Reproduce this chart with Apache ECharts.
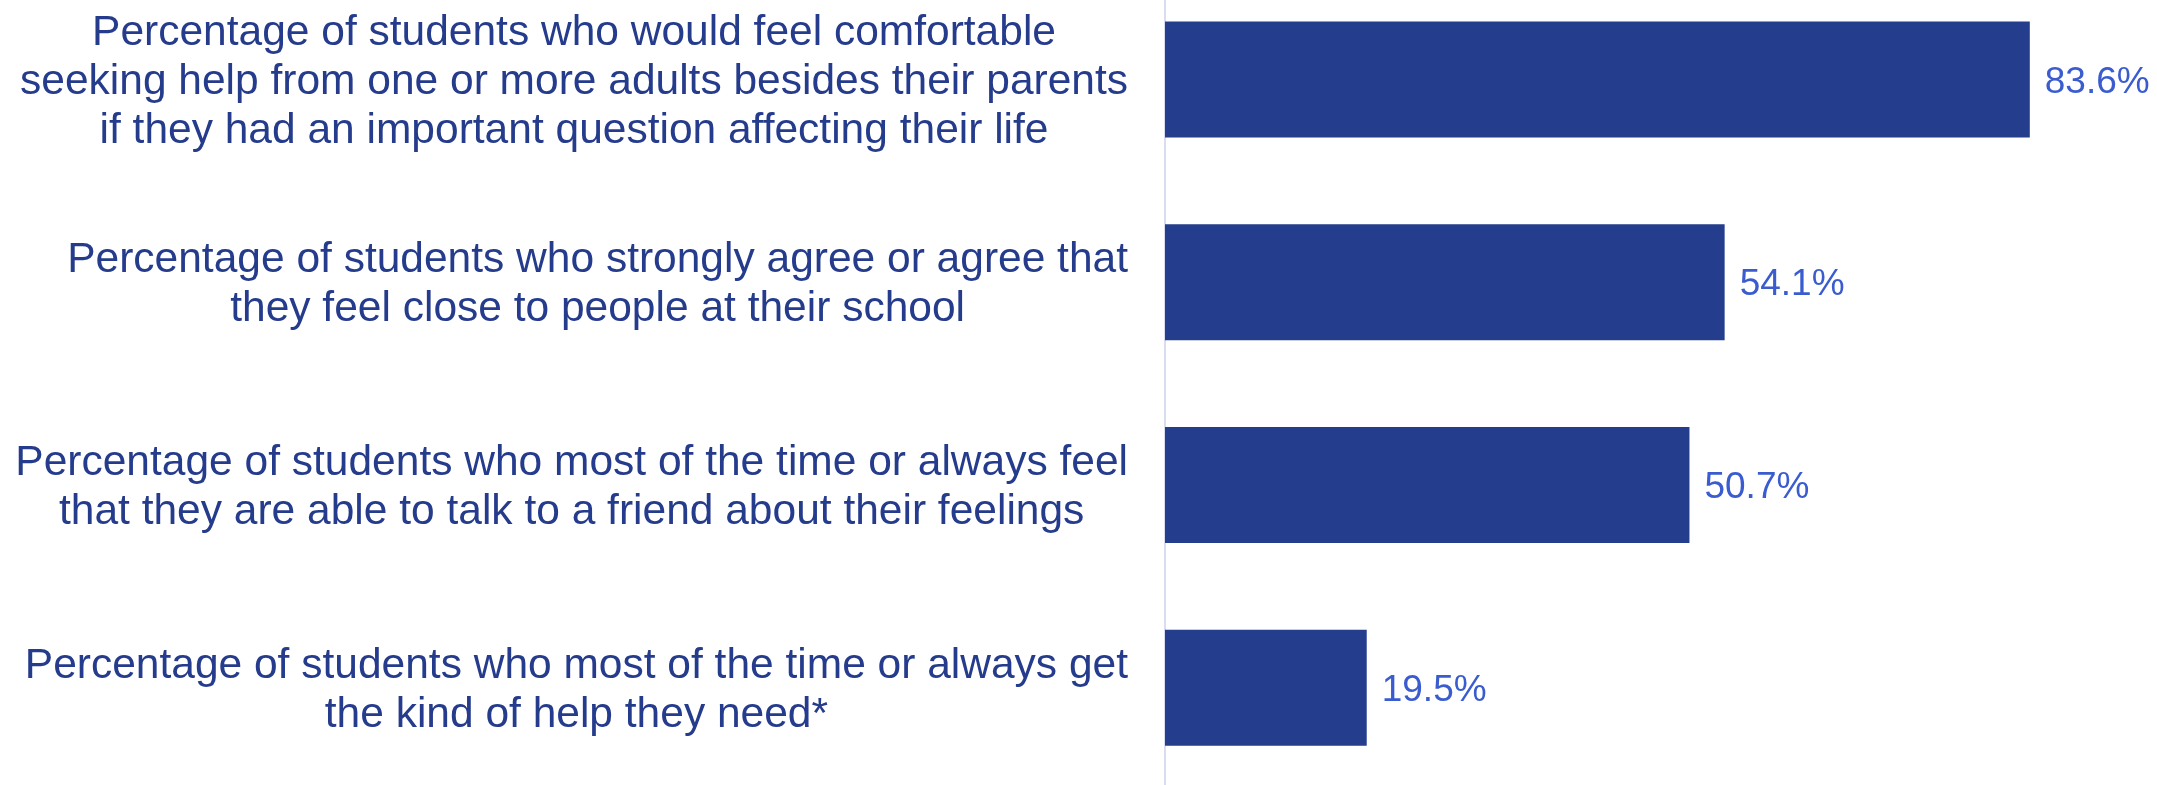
<!DOCTYPE html>
<html>
<head>
<meta charset="utf-8">
<script src="https://cdn.jsdelivr.net/npm/echarts@6/dist/echarts.min.js"></script>
<style>
  html, body { margin: 0; padding: 0; background: #ffffff; overflow: hidden; }
  /* plot area runs a little past the top and bottom edges of the page */
  #chart { width: 2157px; height: 811px; margin-top: -22px; }
</style>
</head>
<body>
<div id="chart"></div>
<script>
// Survey indicators, listed top to bottom
const categories = [
  "Percentage of students who would feel comfortable\nseeking help from one or more adults besides their parents\nif they had an important question affecting their life",
  "Percentage of students who strongly agree or agree that\nthey feel close to people at their school",
  "Percentage of students who most of the time or always feel\nthat they are able to talk to a friend about their feelings",
  "Percentage of students who most of the time or always get\nthe kind of help they need*"
];
const values = [83.6, 54.1, 50.7, 19.5];

const FONT = "'Liberation Sans', Arial, sans-serif";
const chart = echarts.init(document.getElementById('chart'));

chart.setOption({
  animation: false,
  backgroundColor: '#ffffff',
  grid: { left: 1165, right: 61, top: 0, bottom: 0, containLabel: false },
  xAxis: {
    type: 'value',
    min: 0,
    max: 90,
    show: false
  },
  yAxis: {
    type: 'category',
    inverse: true,
    data: categories,
    axisLine: { show: true, lineStyle: { color: '#d9ddf2', width: 2 } },
    axisTick: { show: false },
    splitLine: { show: false },
    axisLabel: {
      margin: 37,
      align: 'right',
      padding: [6, 0, 0, 0],
      fontFamily: FONT,
      fontSize: 42.5,
      color: '#253b8c',
      lineHeight: 49,
      formatter: function (v) {
        return v.split('\n').map(function (l) { return '{c|' + l + '}'; }).join('\n');
      },
      rich: {
        c: {
          align: 'center',
          fontFamily: FONT,
          fontSize: 42.5,
          lineHeight: 49,
          color: '#253b8c'
        }
      }
    }
  },
  series: [{
    type: 'bar',
    data: values,
    barWidth: 116,
    itemStyle: { color: '#243d8c' },
    label: {
      show: true,
      position: 'right',
      distance: 15,
      offset: [0, 3],
      fontFamily: FONT,
      fontSize: 37,
      color: '#3a5ccf',
      formatter: function (p) { return p.value.toFixed(1) + '%'; }
    }
  }]
});
</script>
</body>
</html>
